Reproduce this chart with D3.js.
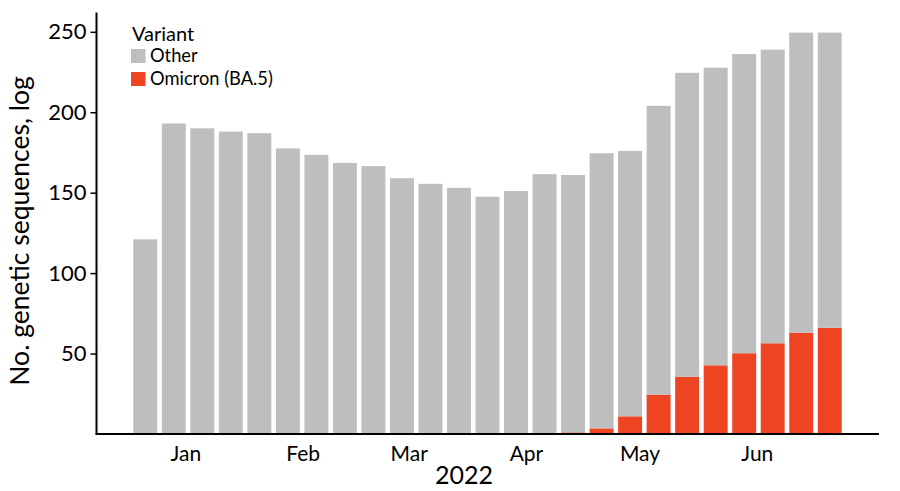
<!DOCTYPE html>
<html>
<head>
<meta charset="utf-8">
<script src="https://cdn.jsdelivr.net/npm/d3@7"></script>
<style>
  html, body { margin: 0; padding: 0; background: #fff; }
  svg { display: block; font-family: Lato, "Open Sans", sans-serif; }
</style>
</head>
<body>
<svg id="chart" width="900" height="491"></svg>
<script>
// ---- Data ----
const weeks = d3.range(1, 26).map(i => "W" + i);
const otherValues = [121, 193, 190, 188, 187, 177.5, 173.5, 168.5, 166.5, 159, 155.5, 153, 147.5, 151, 161.5,
                     160, 171, 165, 179.5, 189, 185, 186, 182.5, 186.5, 183.5];
const omicronValues = [0, 0, 0, 0, 0, 0, 0, 0, 0, 0, 0, 0, 0, 0, 0,
                       1, 3.5, 11, 24.5, 35.5, 42.7, 50.2, 56.4, 63, 66];
const yTicks = [50, 100, 150, 200, 250];
const monthTicks = ["2022-01-01", "2022-02-01", "2022-03-01", "2022-04-01", "2022-05-01", "2022-06-01"];
const seriesNames = ["Omicron (BA.5)", "Other"];
const seriesColors = ["#EE4422", "#BEBEBE"];
const legendOrder = ["Other", "Omicron (BA.5)"];

// ---- Build table ----
const table = weeks.map((w, i) => ({ week: w, "Other": otherValues[i], "Omicron (BA.5)": omicronValues[i] }));

const svg = d3.select("#chart");
const x0 = 131, x1 = 844, yBottom = 434, yTop = 12.5;

const x = d3.scaleBand().domain(weeks).range([x0, x1]).paddingInner(0.16).paddingOuter(0.08);
const y = d3.scaleLinear().domain([0, 262]).range([yBottom, yTop]);
const xTime = d3.scaleTime()
  .domain([new Date(2021, 11, 17, 15), new Date(2022, 5, 24, 1)])
  .range([x0, x1]);
const color = d3.scaleOrdinal().domain(seriesNames).range(seriesColors);

const stack = d3.stack().keys(seriesNames);
const stacked = stack(table);

svg.append("g").selectAll("g")
  .data(stacked)
  .join("g")
  .attr("fill", d => color(d.key))
  .selectAll("rect")
  .data(d => d)
  .join("rect")
  .attr("x", d => x(d.data.week))
  .attr("width", x.bandwidth())
  .attr("y", d => y(d[1]))
  .attr("height", d => Math.max(0, y(d[0]) - y(d[1])));

// Y axis
const yAxis = d3.axisLeft(y).tickValues(yTicks).tickSize(6).tickPadding(4);
const gy = svg.append("g").attr("transform", "translate(96.5,0)").call(yAxis);
gy.select(".domain").attr("stroke", "#000").attr("stroke-width", 2)
  .attr("d", `M0,${yTop}V${yBottom}`);
gy.selectAll(".tick line").attr("stroke", "#000").attr("stroke-width", 1.5);
gy.selectAll(".tick text").attr("font-size", 22).attr("fill", "#000")
  .attr("font-family", "Lato, 'Open Sans', sans-serif");

// X axis
const xAxis = d3.axisBottom(xTime)
  .tickValues(monthTicks.map(s => new Date(s + "T00:00:00")))
  .tickFormat(d3.timeFormat("%b"))
  .tickSize(0).tickPadding(12);
const gx = svg.append("g").attr("transform", `translate(0,${yBottom})`).call(xAxis);
gx.select(".domain").attr("stroke", "#000").attr("stroke-width", 2)
  .attr("d", `M${96.5 - 1},0H879`);
gx.selectAll(".tick text").attr("font-size", 21).attr("fill", "#000")
  .attr("font-family", "Lato, 'Open Sans', sans-serif");

// Axis titles
svg.append("text")
  .attr("x", 464).attr("y", 484)
  .attr("text-anchor", "middle")
  .attr("font-size", 25).attr("fill", "#000")
  .text("2022");

svg.append("text")
  .attr("transform", "translate(29,231) rotate(-90)")
  .attr("text-anchor", "middle")
  .attr("font-size", 26.5).attr("fill", "#000")
  .text("No. genetic sequences, log");

// Legend
const lg = svg.append("g").attr("transform", "translate(131,0)");
lg.append("text").attr("x", 1).attr("y", 41).attr("font-size", 20).attr("fill", "#000").text("Variant");
const items = lg.selectAll("g.item").data(legendOrder).join("g").attr("class", "item")
  .attr("transform", (d, i) => `translate(0,${49 + i * 23})`);
items.append("rect").attr("width", 14.5).attr("height", 14).attr("fill", d => color(d));
items.append("text").attr("x", 19).attr("y", 12.8).attr("font-size", 18.3).attr("fill", "#000").text(d => d);
</script>
</body>
</html>
